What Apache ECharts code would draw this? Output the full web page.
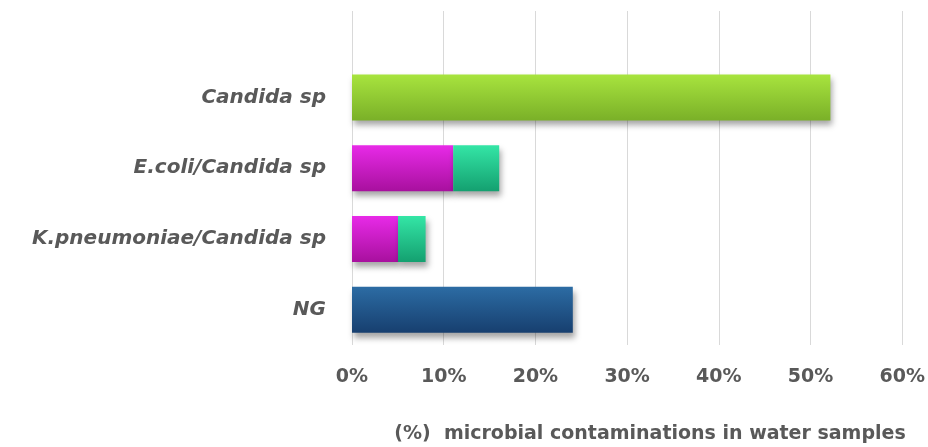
<!DOCTYPE html>
<html>
<head>
<meta charset="utf-8">
<script src="https://cdn.jsdelivr.net/npm/echarts@6/dist/echarts.min.js"></script>
<style>
  html, body { margin: 0; padding: 0; background: #ffffff; }
  #chart { width: 928px; height: 447px; }
</style>
</head>
<body>
<div id="chart"></div>
<script>
// Categories listed bottom to top, as the category axis draws them
const categories = ['NG', 'K.pneumoniae/Candida sp', 'E.coli/Candida sp', 'Candida sp'];
// Single-result rows (Candida sp alone, no growth)
const singleValues = [24, null, null, 52];
// Mixed rows: bacterial part and Candida part of the stack
const bacterialPart = [null, 5, 11, null];
const candidaPart = [null, 3, 5, null];
// Percentage axis ticks
const xTicks = [0, 10, 20, 30, 40, 50, 60];

const FONT = 'DejaVu Sans';
const TEXT = '#595959';

function vGrad(top, bottom) {
  return new echarts.graphic.LinearGradient(0, 0, 0, 1, [
    { offset: 0, color: top },
    { offset: 1, color: bottom }
  ]);
}

const shadow = {
  shadowBlur: 6,
  shadowOffsetX: 2,
  shadowOffsetY: 5,
  shadowColor: 'rgba(0,0,0,0.35)'
};

const singleColors = {
  'NG': vGrad('#2c6ca4', '#173f6f'),
  'Candida sp': vGrad('#a8e43e', '#7ab028')
};

const chart = echarts.init(document.getElementById('chart'), null, { renderer: 'canvas' });

const xMin = xTicks[0];
const xMax = xTicks[xTicks.length - 1];
const xStep = xTicks[1] - xTicks[0];

chart.setOption({
  animation: false,
  backgroundColor: '#ffffff',
  title: {
    text: '(%)  microbial contaminations in water samples',
    left: 645,
    top: 420,
    textAlign: 'center',
    textStyle: { fontFamily: FONT, fontWeight: 'bold', fontSize: 19, color: TEXT }
  },
  grid: [
    // background grid carrying the percentage axis and its vertical lines
    { left: 352, right: 24, top: 11, bottom: 102 },
    // grid holding the bars
    { left: 352, right: 24, top: 62, bottom: 102 }
  ],
  xAxis: [
    {
      gridIndex: 0, type: 'value', min: xMin, max: xMax, interval: xStep,
      axisLine: { show: false }, axisTick: { show: false },
      splitLine: { show: true, lineStyle: { color: '#d9d9d9', width: 1 } },
      axisLabel: {
        margin: 23,
        formatter: v => v + '%',
        fontFamily: FONT, fontWeight: 'bold', fontSize: 19, color: TEXT
      }
    },
    {
      gridIndex: 1, type: 'value', min: xMin, max: xMax, interval: xStep,
      show: false
    }
  ],
  yAxis: [
    {
      gridIndex: 0, type: 'value', min: 0, max: 1, show: false
    },
    {
      gridIndex: 1, type: 'category', data: categories,
      axisLine: { show: false }, axisTick: { show: false },
      axisLabel: {
        margin: 26,
        fontFamily: FONT, fontStyle: 'italic', fontWeight: 'bold', fontSize: 20, color: TEXT
      }
    }
  ],
  series: [
    {
      name: 'single',
      type: 'bar', xAxisIndex: 1, yAxisIndex: 1, stack: 'total',
      barWidth: 46,
      data: singleValues.map((v, i) => ({
        value: v,
        itemStyle: Object.assign({ color: singleColors[categories[i]] || '#888' }, shadow)
      }))
    },
    {
      name: 'bacterial',
      type: 'bar', xAxisIndex: 1, yAxisIndex: 1, stack: 'total',
      barWidth: 46,
      itemStyle: Object.assign({ color: vGrad('#e82ae8', '#a8109e') }, shadow),
      data: bacterialPart
    },
    {
      name: 'candida',
      type: 'bar', xAxisIndex: 1, yAxisIndex: 1, stack: 'total',
      barWidth: 46,
      itemStyle: Object.assign({ color: vGrad('#34e6a6', '#14a070') }, shadow),
      data: candidaPart
    }
  ]
});
</script>
</body>
</html>
